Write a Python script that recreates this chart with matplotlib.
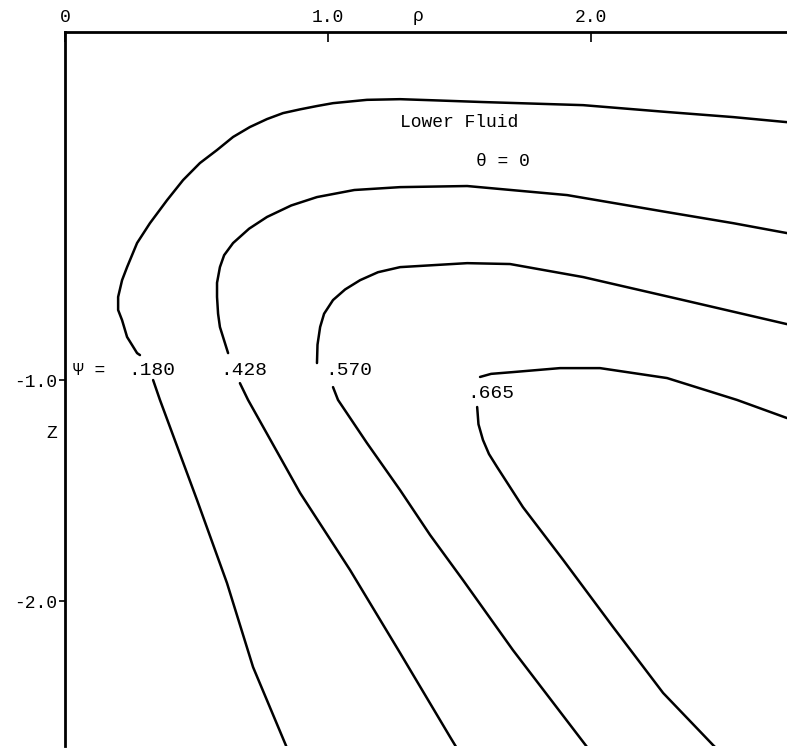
import matplotlib
matplotlib.use("Agg")
import matplotlib.pyplot as plt

# Stream function contours, Lower Fluid, theta = 0  (rho, z)
# each contour is split where its label sits
psi180_top_rho = [2.745, 2.540, 2.289, 1.970, 1.589, 1.399, 1.274, 1.148, 1.019, 0.958, 0.894, 0.829, 0.768, 0.703,
                  0.639, 0.578, 0.513, 0.449, 0.388, 0.323, 0.274, 0.236, 0.217, 0.202, 0.202, 0.217, 0.236, 0.274, 0.285]
psi180_top_z = [0.167, 0.190, 0.213, 0.244, 0.258, 0.266, 0.271, 0.268, 0.253, 0.240, 0.225, 0.208, 0.181, 0.145,
                0.100, 0.041, -0.018, -0.095, -0.186, -0.290, -0.380, -0.489, -0.548, -0.624, -0.683, -0.729, -0.805, -0.878, -0.887]
psi180_low_rho = [0.335, 0.361, 0.502, 0.616, 0.715, 0.844]
psi180_low_z = [-1.000, -1.090, -1.543, -1.919, -2.299, -2.665]

psi428_top_rho = [2.745, 2.540, 2.289, 1.909, 1.529, 1.274, 1.100, 0.958, 0.860, 0.768, 0.700, 0.639, 0.605, 0.589,
                  0.578, 0.578, 0.582, 0.589, 0.620]
psi428_top_z = [-0.335, -0.290, -0.240, -0.163, -0.122, -0.127, -0.140, -0.172, -0.210, -0.262, -0.315, -0.380, -0.435, -0.489,
                -0.560, -0.624, -0.700, -0.760, -0.878]
psi428_low_rho = [0.665, 0.696, 0.894, 1.084, 1.274, 1.464, 1.494]
psi428_low_z = [-1.014, -1.090, -1.511, -1.860, -2.235, -2.615, -2.674]

psi570_top_rho = [2.745, 2.350, 1.970, 1.692, 1.529, 1.274, 1.190, 1.122, 1.065, 1.019, 0.985, 0.970, 0.960, 0.958]
psi570_top_z = [-0.747, -0.638, -0.534, -0.475, -0.471, -0.489, -0.512, -0.548, -0.590, -0.638, -0.700, -0.760, -0.840, -0.923]
psi570_low_rho = [1.019, 1.038, 1.148, 1.274, 1.388, 1.513, 1.703, 1.985, 2.000]
psi570_low_z = [-1.032, -1.090, -1.285, -1.498, -1.701, -1.905, -2.222, -2.661, -2.674]

psi665_top_rho = [1.578, 1.620, 1.703, 1.882, 2.034, 2.289, 2.555, 2.745]
psi665_top_z = [-0.986, -0.972, -0.964, -0.946, -0.946, -0.991, -1.090, -1.172]
psi665_low_rho = [1.567, 1.572, 1.589, 1.612, 1.643, 1.741, 1.894, 2.084, 2.274, 2.464, 2.483]
psi665_low_z = [-1.122, -1.200, -1.271, -1.335, -1.394, -1.575, -1.814, -2.118, -2.416, -2.652, -2.674]

psi_labels = [".180", ".428", ".570", ".665"]
label_rho = [0.240, 0.589, 0.989, 1.529]
label_z = [-0.959, -0.959, -0.959, -1.059]

x_ticks = [0, 1.0, 2.0]
x_ticklabels = ["0", "1.0", "2.0"]
z_ticks = [-1.0, -2.0]
z_ticklabels = ["-1.0", "-2.0"]

FONT = "Liberation Mono"

fig = plt.figure(figsize=(7.87, 7.51), dpi=100)
ax = fig.add_axes([65 / 787, 5 / 751, 1 - 65 / 787, 1 - 37 / 751])

segments = [
    (psi180_top_rho, psi180_top_z), (psi180_low_rho, psi180_low_z),
    (psi428_top_rho, psi428_top_z), (psi428_low_rho, psi428_low_z),
    (psi570_top_rho, psi570_top_z), (psi570_low_rho, psi570_low_z),
    (psi665_top_rho, psi665_top_z), (psi665_low_rho, psi665_low_z),
]
for r, z in segments:
    ax.plot(r, z, color="black", lw=1.8, solid_capstyle="round", solid_joinstyle="round")

ax.set_xlim(0, 2.745)
ax.set_ylim(-2.656, 0.575)

for side in ("right", "bottom"):
    ax.spines[side].set_visible(False)
for side in ("top", "left"):
    ax.spines[side].set_linewidth(2.0)

ax.xaxis.tick_top()
ax.set_xticks(x_ticks)
ax.set_xticklabels(x_ticklabels, fontfamily=FONT, fontsize=13)
ax.tick_params(axis="x", direction="in", length=7, width=1.2, pad=4)
ax.set_yticks(z_ticks)
ax.set_yticklabels(z_ticklabels, fontfamily=FONT, fontsize=13)
ax.tick_params(axis="y", direction="out", length=4, width=1.2, pad=2)

ax.text(1.342, 0.643, "ρ", fontfamily=FONT, fontsize=13, ha="center", va="center", clip_on=False)
ax.text(-0.049, -1.24, "Z", fontfamily=FONT, fontsize=13, ha="center", va="center", clip_on=False)

ax.text(1.274, 0.167, "Lower Fluid", fontfamily=FONT, fontsize=13, ha="left", va="center")
ax.text(1.563, -0.009, "θ = 0", fontfamily=FONT, fontsize=13, ha="left", va="center")

ax.text(0.030, -0.959, "Ψ =", fontfamily=FONT, fontsize=13, ha="left", va="center")
for lab, r, z in zip(psi_labels, label_rho, label_z):
    ax.text(r, z, lab, fontfamily=FONT, fontsize=14, ha="left", va="center")

fig.savefig("out.png", dpi=100, facecolor="white")
